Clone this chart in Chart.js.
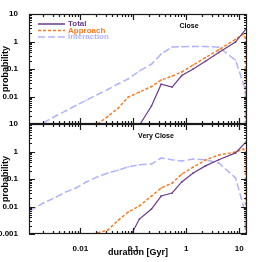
<!DOCTYPE html>
<html>
<head>
<meta charset="utf-8">
<script src="https://cdn.jsdelivr.net/npm/chart.js@4"></script>
<style>
  html, body { margin: 0; padding: 0; background: #fff; }
  #wrap { width: 262px; height: 262px; }
</style>
</head>
<body>
<div id="wrap"><canvas id="grafico" width="262" height="262"></canvas></div>
<script>
// durations in Gyr, shared by every curve
const durations = [0.0011, 0.002, 0.0035, 0.0053, 0.0082, 0.013, 0.021, 0.033, 0.052, 0.08, 0.13,
                   0.22, 0.335, 0.54, 0.82, 1.35, 2.3, 4.1, 8.5, 12, 13.0, 13.3];

// panel "Close"
const closeTotal       = [null, null, null, null, null, null, null, null, null, null, 0.0009,
                          0.0045, 0.028, 0.022, 0.058, 0.1, 0.19, 0.4, 0.95, null, null, 2.8];
const closeApproach    = [null, null, null, null, null, null, 0.001, 0.0019, 0.0038, 0.0095, 0.0145,
                          0.023, 0.04, 0.055, 0.078, 0.14, 0.26, 0.5, 1.2, 1.85, 1.35, 0.00001];
const closeInteraction = [null, 0.0011, 0.002, 0.003, 0.0047, 0.0074, 0.0118, 0.018, 0.029, 0.044, 0.085,
                          0.15, 0.35, 0.63, 0.65, 0.66, 0.66, 0.62, 0.21, null, 0.018, 0.00001];

// panel "Very Close"
const veryCloseTotal       = [null, null, null, null, null, null, null, null, null, 0.0006, 0.0035,
                              0.0081, 0.024, 0.031, 0.078, 0.165, 0.3, 0.5, 0.89, null, null, 2.2];
const veryCloseApproach    = [null, null, null, null, null, null, 0.0011, 0.0014, 0.0032, 0.0063, 0.0105,
                              0.024, 0.047, 0.071, 0.15, 0.27, 0.49, 0.74, 0.96, 1.23, 0.96, 0.00001];
const veryCloseInteraction = [0.0069, 0.0134, 0.022, 0.034, 0.047, 0.078, 0.12, 0.165, 0.21, 0.28, 0.33,
                              0.35, 0.58, 0.5, 0.45, 0.53, 0.5, 0.38, 0.11, null, 0.006, 0.00001];

const seriesNames = ['Total', 'Approach', 'Interaction'];
const panelNames = ['Close', 'Very Close'];

const colTotal = '#6b3a8e';
const colApproach = '#ff7a1f';
const colInteraction = '#b0b4ff';

const FONT = 'Liberation Sans, Arial, sans-serif';

function toPoints(vals) {
  return durations.map((d, i) => ({ x: d, y: vals[i] }));
}

function isPow10(v) {
  const l = Math.log10(v);
  return Math.abs(l - Math.round(l)) < 1e-6;
}
function fmtPow10(v) {
  const e = Math.round(Math.log10(v));
  return e >= 0 ? String(Math.pow(10, e)) : Math.pow(10, e).toFixed(-e);
}

function makeSet(label, vals, color, dash, width, axis) {
  return {
    label: label,
    data: toPoints(vals),
    yAxisID: axis,
    borderColor: color,
    backgroundColor: color,
    borderDash: dash,
    borderWidth: width,
    pointRadius: 1,
    pointStyle: 'rect',
    pointBorderWidth: 0,
    spanGaps: true,
    tension: 0
  };
}

const datasets = [
  makeSet(seriesNames[0], closeTotal, colTotal, [], 1.2, 'yTop'),
  makeSet(seriesNames[1], closeApproach, colApproach, [3, 2], 1.5, 'yTop'),
  makeSet(seriesNames[2], closeInteraction, colInteraction, [7, 3], 1.5, 'yTop'),
  makeSet(seriesNames[0], veryCloseTotal, colTotal, [], 1.2, 'yBot'),
  makeSet(seriesNames[1], veryCloseApproach, colApproach, [3, 2], 1.5, 'yBot'),
  makeSet(seriesNames[2], veryCloseInteraction, colInteraction, [7, 3], 1.5, 'yBot')
];

function yAxis(hideBottom) {
  return {
    type: 'logarithmic',
    min: 0.001,
    max: 10,
    position: 'left',
    stack: 'panels',
    stackWeight: 1,
    grid: { display: false },
    border: { display: false },
    afterFit: s => { s.width = 29; },
    ticks: {
      autoSkip: false,
      padding: 3,
      color: '#000',
      font: { family: FONT, size: 8, weight: 'bold' },
      callback: v => (isPow10(v) && !(hideBottom && v < 0.0015)) ? fmtPow10(v) : ''
    },
    title: {
      display: true,
      text: 'probability',
      color: '#000',
      padding: 0,
      font: { family: FONT, size: 9, weight: 'bold' }
    }
  };
}

// clipping per panel, frame, inward ticks, legend and panel names
const panelPlugin = {
  id: 'panels',
  beforeDatasetDraw(chart, args) {
    const ys = args.meta.yScale, xs = args.meta.xScale, ctx = chart.ctx;
    ctx.save();
    ctx.beginPath();
    ctx.rect(xs.left, ys.top, xs.right - xs.left, ys.bottom - ys.top);
    ctx.clip();
  },
  afterDatasetDraw(chart) {
    chart.ctx.restore();
  },
  afterDraw(chart) {
    const ctx = chart.ctx;
    const xs = chart.scales.x;
    const panels = [chart.scales.yTop, chart.scales.yBot];
    ctx.save();
    ctx.strokeStyle = '#1a1a1a';
    ctx.lineWidth = 1.2;
    panels.forEach(ys => {
      ctx.strokeRect(xs.left + 0.5, ys.top + 0.5, xs.right - xs.left - 1, ys.bottom - ys.top - 1);
      ctx.beginPath();
      for (let e = -3; e <= 1; e++) {
        for (let k = 1; k <= 9; k++) {
          const v = k * Math.pow(10, e);
          if (v > xs.min && v < xs.max) {
            const px = Math.round(xs.getPixelForValue(v)) + 0.5;
            const len = k === 1 ? 6 : 3;
            ctx.moveTo(px, ys.bottom); ctx.lineTo(px, ys.bottom - len);
            ctx.moveTo(px, ys.top); ctx.lineTo(px, ys.top + len);
          }
          if (v >= ys.min && v <= ys.max) {
            const py = Math.round(ys.getPixelForValue(v)) + 0.5;
            const len = k === 1 ? 6 : 3;
            ctx.moveTo(xs.left, py); ctx.lineTo(xs.left + len, py);
            ctx.moveTo(xs.right, py); ctx.lineTo(xs.right - len, py);
          }
        }
      }
      ctx.stroke();
    });

    // legend in the upper panel
    const top = panels[0];
    ctx.font = 'bold 8px ' + FONT;
    ctx.textBaseline = 'middle';
    ctx.textAlign = 'left';
    chart.data.datasets.slice(0, 3).forEach((ds, i) => {
      const y = top.top + 10 + i * 6.5;
      ctx.beginPath();
      ctx.setLineDash(ds.borderDash);
      ctx.strokeStyle = ds.borderColor;
      ctx.lineWidth = 1.5;
      ctx.moveTo(xs.left + 9, y);
      ctx.lineTo(xs.left + 36, y);
      ctx.stroke();
      ctx.setLineDash([]);
      ctx.fillStyle = ds.borderColor;
      ctx.fillText(ds.label, xs.left + 39, y);
    });

    // panel names
    ctx.fillStyle = '#000';
    ctx.font = 'bold 7px ' + FONT;
    ctx.textAlign = 'center';
    ctx.fillText(panelNames[0], xs.left + 160, panels[0].top + 12);
    ctx.fillText(panelNames[1], xs.left + 127, panels[1].top + 12);
    ctx.restore();
  }
};

new Chart(document.getElementById('grafico').getContext('2d'), {
  type: 'line',
  data: { datasets: datasets },
  plugins: [panelPlugin],
  options: {
    responsive: false,
    animation: false,
    layout: { padding: { left: 0, right: 15, top: 14, bottom: 0 } },
    plugins: { legend: { display: false }, tooltip: { enabled: false } },
    scales: {
      x: {
        type: 'logarithmic',
        min: 0.00107,
        max: 14,
        grid: { display: false },
        border: { display: false },
        afterFit: s => { s.height = 28; },
        ticks: {
          autoSkip: false,
          maxRotation: 0,
          padding: 2,
          color: '#000',
          font: { family: FONT, size: 8, weight: 'bold' },
          callback: v => isPow10(v) ? fmtPow10(v) : ''
        },
        title: {
          display: true,
          text: 'duration [Gyr]',
          color: '#000',
          padding: { top: 0, bottom: 4 },
          font: { family: FONT, size: 9, weight: 'bold' }
        }
      },
      // Chart.js stacks the first listed axis at the bottom
      yBot: yAxis(false),
      yTop: yAxis(true)
    }
  }
});
</script>
</body>
</html>
